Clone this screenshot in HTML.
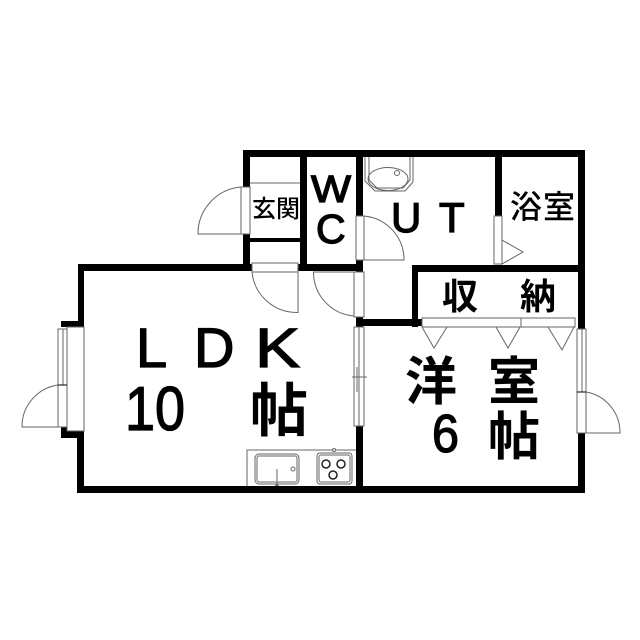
<!DOCTYPE html>
<html><head><meta charset="utf-8"><style>
html,body{margin:0;padding:0;background:#fff}
svg{display:block}
text{fill:#000;stroke:#000;stroke-width:1.3;font-family:"Liberation Sans","Noto Sans CJK JP",sans-serif}
.j{font-family:"Noto Sans CJK JP","Liberation Sans",sans-serif;font-weight:700;stroke-width:0}
.t{fill:none;stroke:#666;stroke-width:1}
.f{fill:#fff;stroke:#666;stroke-width:1}
</style></head><body>
<svg width="640" height="640" viewBox="0 0 640 640" xmlns="http://www.w3.org/2000/svg">
<rect width="640" height="640" fill="#fff"/>
<g fill="#000">
<rect x="243" y="150" width="342" height="7"/>
<rect x="578" y="150" width="7" height="179"/>
<rect x="578" y="433" width="7" height="60"/>
<rect x="77" y="486" width="508" height="7"/>
<rect x="243" y="150" width="7" height="37"/>
<rect x="243" y="234" width="7" height="37"/>
<rect x="300" y="150" width="7" height="121"/>
<rect x="356" y="150" width="7" height="66"/>
<rect x="356" y="260" width="7" height="12"/>
<rect x="356" y="317" width="7" height="10"/>
<rect x="356" y="426" width="7" height="67"/>
<rect x="495" y="150" width="7" height="66"/>
<rect x="250" y="238" width="50" height="4"/>
<rect x="78" y="264" width="174" height="7"/>
<rect x="298" y="264" width="65" height="7"/>
<rect x="412" y="265" width="173" height="7"/>
<rect x="412" y="265" width="6" height="62"/>
<rect x="356" y="319" width="66" height="7"/>
<rect x="78" y="264" width="6" height="63"/>
<rect x="61" y="321" width="23" height="6"/>
<rect x="61" y="431" width="23" height="7"/>
<rect x="61" y="427" width="6" height="11"/>
<rect x="77" y="431" width="7" height="62"/>
</g>
<line class="t" x1="250" y1="183" x2="300" y2="183"/>
<rect class="f" x="241" y="187" width="9" height="47"/>
<path class="t" d="M241 187A47 47 0 0 0 198 234H241"/>
<rect class="f" x="252" y="263" width="46" height="9"/>
<path class="t" d="M252 272A45 45 0 0 0 298 312.500V272"/>
<rect class="f" x="356" y="216" width="8" height="44"/>
<path class="t" d="M364 216A44 44 0 0 1 404 260H364"/>
<rect class="f" x="354" y="272" width="10" height="45"/>
<path class="t" d="M354 272H313.500A44 44 0 0 0 354 316"/>
<rect class="f" x="494" y="216" width="8" height="48"/>
<path class="t" d="M502 240L523 252L502 264Z"/>
<rect class="f" x="422" y="318" width="99" height="9"/>
<rect class="f" x="521" y="318" width="54" height="9"/>
<path class="t" d="M422 327L434 348L447 327M496 327L508 348L520 327M548 327L562 350L574 327"/>
<rect class="f" x="577" y="329" width="9" height="104"/>
<line class="t" x1="582" y1="329" x2="582" y2="392"/>
<line x1="577" y1="392" x2="586" y2="392" stroke="#000" stroke-width="1"/>
<path class="t" d="M586 392A41 41 0 0 1 620 433H586"/>
<rect class="f" x="354" y="327" width="10" height="99"/>
<line class="t" x1="359" y1="327" x2="359" y2="426"/>
<path class="t" d="M357 367V392M352 377H367"/>
<rect class="f" x="67" y="327" width="17" height="104"/>
<rect class="f" x="58" y="329" width="9" height="98"/>
<line class="t" x1="63" y1="329" x2="63" y2="385"/>
<line x1="58" y1="385" x2="67" y2="385" stroke="#000" stroke-width="1"/>
<path class="t" d="M58 385A42 42 0 0 0 22 427H58"/>
<path class="t" d="M365 157V181L375 191H405L413 182V157"/>
<path class="t" d="M369 157V180L377 188H403L410 180V157"/>
<ellipse class="t" cx="388" cy="179" rx="20" ry="11.500"/>
<circle class="t" cx="397" cy="173" r="2.500"/>
<path class="t" d="M247 486V450H356"/>
<rect class="t" x="255" y="454" width="44" height="30" rx="4"/>
<rect class="t" x="257" y="456" width="40" height="26" rx="2"/>
<circle class="t" cx="293" cy="469" r="2"/>
<path class="t" d="M277 469V485"/>
<path d="M275 486L277 482L279 486Z" fill="#666"/>
<rect class="t" x="317" y="453" width="35" height="31" rx="3"/>
<rect class="t" x="319" y="455" width="31" height="27" rx="2"/>
<circle cx="326" cy="464" r="4" fill="none" stroke="#222" stroke-width="1.500"/>
<circle cx="341" cy="464" r="4" fill="none" stroke="#222" stroke-width="1.500"/>
<circle cx="333" cy="475" r="4" fill="none" stroke="#222" stroke-width="1.500"/>
<circle class="f" cx="334" cy="450" r="1.500"/>
<text x="136" y="367" font-size="56">L</text>
<text x="194" y="367" font-size="56">D</text>
<text x="255" y="367" font-size="56" textLength="45" lengthAdjust="spacingAndGlyphs">K</text>
<text x="125" y="430" font-size="62" textLength="60" lengthAdjust="spacingAndGlyphs">10</text>
<text class="j" x="250" y="431" font-size="58">帖</text>
<text class="j" x="405" y="400" font-size="52">洋</text>
<text class="j" x="488" y="400" font-size="52">室</text>
<text x="432" y="452" font-size="54" textLength="27" lengthAdjust="spacingAndGlyphs">6</text>
<text class="j" x="488" y="455" font-size="52">帖</text>
<text class="j" x="442" y="309" font-size="36">収</text>
<text class="j" x="520" y="309" font-size="36">納</text>
<text class="j" x="252" y="217" font-size="24" style="font-weight:500">玄関</text>
<text class="j" x="510" y="218" font-size="32" style="font-weight:500">浴</text>
<text class="j" x="543" y="218" font-size="32" style="font-weight:500">室</text>
<text x="311" y="202" font-size="38" textLength="40" lengthAdjust="spacingAndGlyphs">W</text>
<text x="316" y="243" font-size="41">C</text>
<text x="391" y="232" font-size="42">U</text>
<text x="439" y="232" font-size="42">T</text>
</svg>
</body></html>
